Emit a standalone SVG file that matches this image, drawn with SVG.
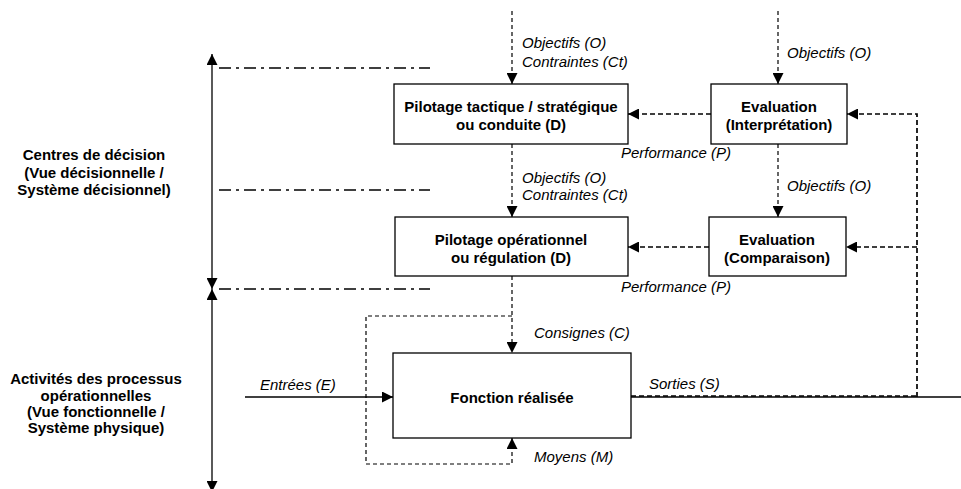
<svg xmlns="http://www.w3.org/2000/svg" width="961" height="489" viewBox="0 0 961 489">
<style>
.box{fill:#fff;stroke:#000;stroke-width:1.3}
.bt{font-family:"Liberation Sans",Arial,sans-serif;font-weight:bold;font-size:15px;fill:#000;text-anchor:middle}
.lt{font-family:"Liberation Sans",Arial,sans-serif;font-style:italic;font-size:15px;fill:#000}
.dd{fill:none;stroke:#000;stroke-width:1.3;stroke-dasharray:12 5 3 5}
.thin{fill:none;stroke:#000;stroke-width:1.2;stroke-dasharray:4 3}
.fb{fill:none;stroke:#000;stroke-width:1.7;stroke-dasharray:5 3}
.solid{fill:none;stroke:#000;stroke-width:1.3}
</style>
<defs>
<marker id="ah" markerUnits="userSpaceOnUse" markerWidth="11" markerHeight="11" refX="10" refY="5" orient="auto" viewBox="0 0 10 10">
<path d="M0,0 L10,5 L0,10 z" fill="#000"/>
</marker>
<marker id="ahs" markerUnits="userSpaceOnUse" markerWidth="11" markerHeight="11" refX="0" refY="5" orient="auto" viewBox="0 0 10 10">
<path d="M10,0 L0,5 L10,10 z" fill="#000"/>
</marker>
</defs>
<rect width="961" height="489" fill="#fff"/>

<g id="axis">
<line x1="212" y1="54" x2="212" y2="289" class="solid" marker-start="url(#ahs)" marker-end="url(#ah)"/>
<line x1="212" y1="289" x2="212" y2="492" class="solid" marker-start="url(#ahs)" marker-end="url(#ah)"/>
<line x1="219" y1="68" x2="430" y2="68" class="dd"/>
<line x1="219" y1="190" x2="430" y2="190" class="dd"/>
<line x1="219" y1="289" x2="430" y2="289" class="dd"/>
</g>

<g id="label-decision">
<text class="bt" x="94" y="160">Centres de décision</text>
<text class="bt" x="94" y="178">(Vue décisionnelle /</text>
<text class="bt" x="94" y="195">Système décisionnel)</text>
</g>
<g id="label-activites">
<text class="bt" x="96" y="384">Activités des processus</text>
<text class="bt" x="96" y="401">opérationnelles</text>
<text class="bt" x="96" y="417">(Vue fonctionnelle /</text>
<text class="bt" x="96" y="433">Système physique)</text>
</g>

<g id="connectors">
<line x1="512" y1="11" x2="512" y2="84" class="thin" marker-end="url(#ah)"/>
<line x1="778" y1="11" x2="778" y2="84" class="thin" marker-end="url(#ah)"/>
<line x1="512" y1="144" x2="512" y2="217" class="thin" marker-end="url(#ah)"/>
<line x1="778" y1="144" x2="778" y2="217" class="thin" marker-end="url(#ah)"/>
<line x1="512" y1="276" x2="512" y2="353" class="thin" marker-end="url(#ah)"/>
<path d="M512,316 H366 V464 H512 V438" class="thin" marker-end="url(#ah)"/>
<line x1="711" y1="114" x2="628" y2="114" class="fb" marker-end="url(#ah)"/>
<line x1="709" y1="247" x2="628" y2="247" class="fb" marker-end="url(#ah)"/>
<path d="M917,397 V114 H847" class="fb" marker-end="url(#ah)"/>
<line x1="917" y1="247" x2="846" y2="247" class="fb" marker-end="url(#ah)"/>
<line x1="245" y1="397" x2="393" y2="397" class="solid" marker-end="url(#ah)"/>
<line x1="631" y1="397" x2="961" y2="397" class="solid"/>
<line x1="631" y1="396" x2="917" y2="396" class="fb"/>
<text class="lt" x="522" y="48">Objectifs (O)</text>
<text class="lt" x="522" y="67">Contraintes (Ct)</text>
<text class="lt" x="787" y="58">Objectifs (O)</text>
<text class="lt" x="621" y="158">Performance (P)</text>
<text class="lt" x="522" y="183">Objectifs (O)</text>
<text class="lt" x="522" y="200">Contraintes (Ct)</text>
<text class="lt" x="787" y="191">Objectifs (O)</text>
<text class="lt" x="621" y="292">Performance (P)</text>
<text class="lt" x="534" y="338">Consignes (C)</text>
<text class="lt" x="260" y="390">Entrées (E)</text>
<text class="lt" x="649" y="389">Sorties (S)</text>
<text class="lt" x="534" y="462">Moyens (M)</text>
</g>

<g id="pilotage-tactique">
<rect class="box" x="394" y="84" width="234" height="60"/>
<text class="bt" x="511" y="112">Pilotage tactique / stratégique</text>
<text class="bt" x="511" y="130">ou conduite (D)</text>
</g>
<g id="evaluation-interpretation">
<rect class="box" x="711" y="84" width="136" height="60"/>
<text class="bt" x="779" y="112">Evaluation</text>
<text class="bt" x="779" y="130">(Interprétation)</text>
</g>
<g id="pilotage-operationnel">
<rect class="box" x="395" y="217" width="233" height="59"/>
<text class="bt" x="511" y="245">Pilotage opérationnel</text>
<text class="bt" x="511" y="263">ou régulation (D)</text>
</g>
<g id="evaluation-comparaison">
<rect class="box" x="709" y="217" width="137" height="59"/>
<text class="bt" x="777" y="245">Evaluation</text>
<text class="bt" x="777" y="263">(Comparaison)</text>
</g>
<g id="fonction-realisee">
<rect class="box" x="393" y="353" width="238" height="85"/>
<text class="bt" x="512" y="403">Fonction réalisée</text>
</g>
</svg>
